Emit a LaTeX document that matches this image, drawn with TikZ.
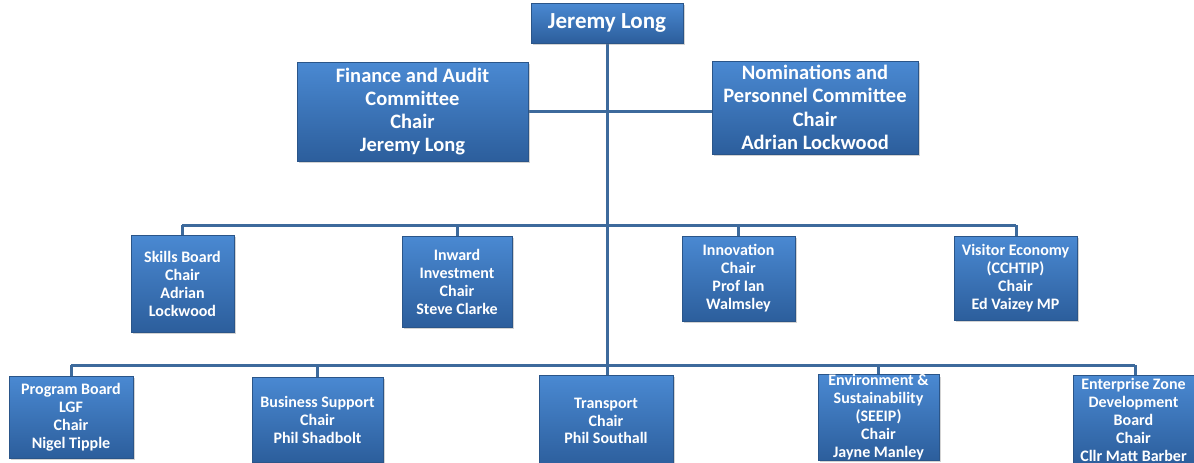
\documentclass[tikz,border=0pt]{standalone}
\usepackage{fontspec}
\setmainfont{Carlito}
\usetikzlibrary{shadows,backgrounds}
\definecolor{boxtop}{HTML}{4A89D2}
\definecolor{boxbot}{HTML}{2C5E9C}
\definecolor{boxedge}{HTML}{2A5589}
\definecolor{linecol}{HTML}{3D6A9C}
\tikzset{
  x=1pt,y=-1pt,
  orgbox/.style={draw=boxedge,line width=0.8pt,top color=boxtop,bottom color=boxbot,
    text=white,align=center,inner sep=0pt,
    drop shadow={shadow xshift=1.5pt,shadow yshift=-2pt,opacity=0.35}},
  conn/.style={draw=linecol,line width=3pt}
}
\newcommand{\orgnode}[8]{%
  \node[orgbox,minimum width={#4-#2},minimum height={#5-#3},font=\bfseries\fontsize{#6}{#7}\selectfont]
    (#1) at ({(#2+#4)/2},{(#3+#5)/2}) {#8};}
\begin{document}
\begin{tikzpicture}
\useasboundingbox (0,0) rectangle (1194,463);
\clip (0,0) rectangle (1194,463);
\coordinate (trunkbot) at (607,365);
\coordinate (midL) at (182,225);
\coordinate (midR) at (1016,225);
\coordinate (botL) at (71,365);
\coordinate (botR) at (1135,365);
% boxes
\orgnode{jl}{531}{3}{683}{43}{23}{26}{Jeremy Long}
\orgnode{fin}{297}{62}{528}{161}{20.5}{23.3}{Finance and Audit\\Committee\\Chair\\Jeremy Long}
\orgnode{nom}{712}{61}{918}{154}{20.5}{23.3}{Nominations and\\Personnel Committee\\Chair\\Adrian Lockwood}
\orgnode{skills}{131}{235}{234}{332}{16}{18}{Skills Board\\Chair\\Adrian\\Lockwood}
\orgnode{inward}{402}{236}{512}{327}{16}{18}{Inward\\Investment\\Chair\\Steve Clarke}
\orgnode{innov}{682}{236}{795}{321}{16}{18}{Innovation\\Chair\\Prof Ian\\Walmsley}
\orgnode{visitor}{954}{236}{1077}{320}{16}{18}{Visitor Economy\\(CCHTIP)\\Chair\\Ed Vaizey MP}
\orgnode{prog}{9}{376}{133}{458}{16}{18}{Program Board\\LGF\\Chair\\Nigel Tipple}
\orgnode{bus}{252}{377}{383}{462}{16}{18}{Business Support\\Chair\\Phil Shadbolt}
\orgnode{trans}{539}{375}{673}{467}{16}{17.5}{Transport\\Chair\\Phil Southall}
\orgnode{env}{818}{375}{939}{460}{16}{18}{Environment \&\\Sustainability\\(SEEIP)\\Chair\\Jayne Manley}
\orgnode{ent}{1073}{375}{1194}{464}{16}{18}{Enterprise Zone\\Development\\Board\\Chair\\Cllr Matt Barber}
% connectors
\begin{scope}[on background layer]
\draw[conn] (jl.south -| trunkbot) -- (trunkbot);
\draw[conn] (fin.east) -- (fin.east -| nom.west);
\draw[conn] (midL) -- (midR);
\draw[conn] (midL) -- (skills.north -| midL);
\draw[conn] (inward.north) -- (inward.north |- midL);
\draw[conn] (innov.north) -- (innov.north |- midL);
\draw[conn] (midR) -- (visitor.north -| midR);
\draw[conn] (botL) -- (botR);
\draw[conn] (botL) -- (prog.north -| botL);
\draw[conn] (bus.north) -- (bus.north |- botL);
\draw[conn] (trunkbot) -- (trans.north -| trunkbot);
\draw[conn] (env.north) -- (env.north |- botL);
\draw[conn] (botR) -- (ent.north -| botR);
\end{scope}
\end{tikzpicture}
\end{document}
